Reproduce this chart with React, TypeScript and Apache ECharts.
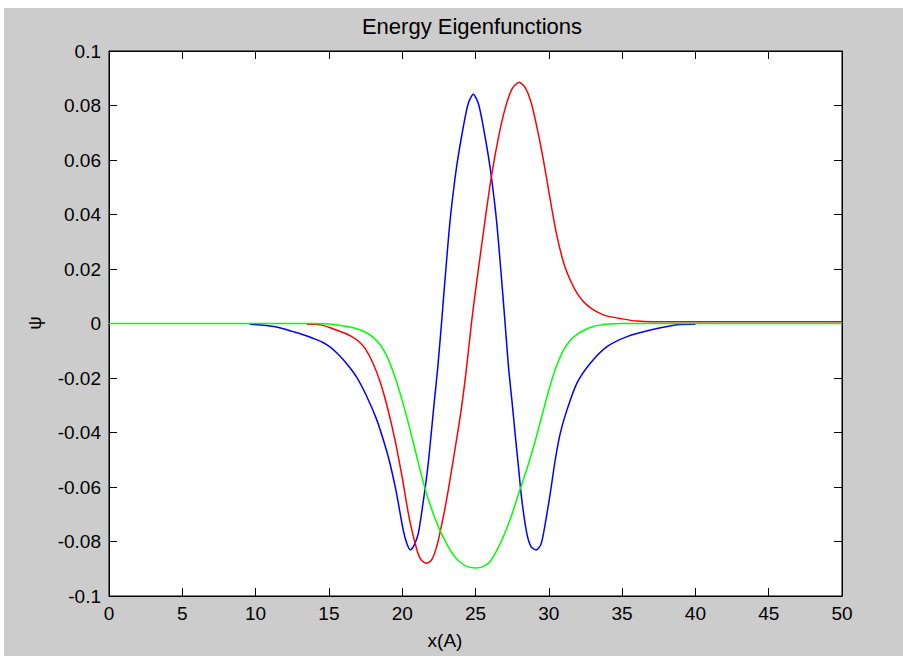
import React, { useEffect, useRef } from "react";
import * as echarts from "echarts";

const xTicks = [0, 5, 10, 15, 20, 25, 30, 35, 40, 45, 50];
const yTicks = [-0.1, -0.08, -0.06, -0.04, -0.02, 0, 0.02, 0.04, 0.06, 0.08, 0.1];

const blueX = [9.6, 10.5, 11, 11.5, 12.08, 12.5, 13, 13.5, 13.9, 14.5, 15.05, 15.6, 16.19, 16.87, 17.56, 18.24, 18.7, 19.15, 19.6, 20.06, 20.3, 20.55, 20.8, 21.1, 21.45, 21.75, 21.98, 22.2, 22.43, 22.68, 22.85, 23.03, 23.2, 23.37, 23.71, 24.17, 24.51, 24.85, 25.19, 25.53, 25.99, 26.33, 26.5, 26.67, 26.85, 27.02, 27.25, 27.48, 27.7, 27.93, 28.16, 28.5, 28.8, 29.14, 29.45, 29.64, 30.1, 30.44, 30.78, 31.24, 31.92, 32.83, 33.97, 35.34, 36.94, 38.53, 40];
const blueY = [-0.0003, -0.0006, -0.0009, -0.0014, -0.0022, -0.0029, -0.0037, -0.0046, -0.0054, -0.0067, -0.0085, -0.0111, -0.0146, -0.0195, -0.0265, -0.035, -0.0425, -0.051, -0.062, -0.0755, -0.0805, -0.0831, -0.0815, -0.077, -0.0648, -0.0526, -0.0403, -0.0281, -0.0159, 0, 0.0115, 0.0233, 0.034, 0.043, 0.0575, 0.0722, 0.0808, 0.0841, 0.0808, 0.0722, 0.0575, 0.043, 0.034, 0.0233, 0.0115, 0, -0.0159, -0.0281, -0.0403, -0.0526, -0.0648, -0.077, -0.082, -0.0831, -0.0812, -0.077, -0.0623, -0.05, -0.0403, -0.0317, -0.0219, -0.0146, -0.0085, -0.0048, -0.0024, -0.0006, -0.0003];

const redX = [13.5, 14, 14.5, 15, 15.5, 16, 16.5, 17, 17.5, 18, 18.5, 19, 19.5, 20, 20.5, 21, 21.3, 21.66, 22, 22.3, 22.57, 23, 23.5, 24, 24.35, 24.72, 25, 25.5, 26, 26.5, 27, 27.5, 27.97, 28.4, 28.8, 29.2, 29.6, 30, 30.5, 31, 31.5, 32, 32.5, 33, 33.5, 34, 35, 36, 37, 50];
const redY = [-0.0003, -0.0003, -0.0006, -0.0014, -0.0024, -0.0034, -0.0046, -0.0064, -0.0094, -0.0145, -0.0215, -0.031, -0.0425, -0.0565, -0.072, -0.083, -0.0868, -0.088, -0.0868, -0.0828, -0.077, -0.0655, -0.0495, -0.0325, -0.018, 0, 0.012, 0.032, 0.051, 0.0665, 0.0785, 0.0862, 0.0885, 0.0865, 0.081, 0.0718, 0.061, 0.0485, 0.0335, 0.0225, 0.0155, 0.0105, 0.0073, 0.0052, 0.0037, 0.0027, 0.0017, 0.0009, 0.0006, 0.0006];

const greenX = [0, 14, 15, 15.5, 16, 16.5, 17, 17.5, 18, 18.5, 19, 19.5, 20, 20.5, 21, 21.5, 22, 22.5, 23, 23.5, 24, 24.5, 25, 25.5, 26, 26.5, 27, 27.5, 28, 28.5, 29, 29.5, 30, 30.5, 31, 31.5, 32, 32.5, 33, 33.5, 34, 35, 50];
const greenY = [0, 0, -0.0002, -0.0005, -0.0009, -0.0014, -0.0021, -0.0032, -0.005, -0.0078, -0.0125, -0.0195, -0.0282, -0.0382, -0.049, -0.0595, -0.068, -0.075, -0.0805, -0.085, -0.0878, -0.0893, -0.0897, -0.0892, -0.0873, -0.0828, -0.077, -0.0698, -0.0615, -0.0535, -0.0445, -0.0345, -0.0245, -0.016, -0.0098, -0.006, -0.0037, -0.0022, -0.0012, -0.0006, -0.0002, 0, 0];

const zip = (xs: number[], ys: number[]) => xs.map((x, i) => [x, ys[i]]);

const FONT = "Arial, 'Liberation Sans', sans-serif";

export default function App() {
  const ref = useRef<HTMLDivElement>(null);
  useEffect(() => {
    if (!ref.current) return;
    const chart = echarts.init(ref.current, null, { renderer: "svg" });
    const tickCommon = { inside: true, length: 8, lineStyle: { color: "#000", width: 1 } };
    const lineCommon = { show: true, onZero: false, lineStyle: { color: "#000", width: 1 } };
    const lineSeries = (xs: number[], ys: number[], color: string) => ({
      type: "line",
      data: zip(xs, ys),
      showSymbol: false,
      smooth: 0.25,
      lineStyle: { color, width: 1.5 },
      itemStyle: { color },
    });
    chart.setOption({
      animation: false,
      backgroundColor: "#cccccc",
      grid: {
        left: 105, top: 43, right: 61, bottom: 60,
        show: true, backgroundColor: "#ffffff", borderColor: "#000", borderWidth: 1,
      },
      graphic: [
        {
          type: "text", x: 468, y: 18,
          style: { text: "Energy Eigenfunctions", fill: "#000", font: `22px ${FONT}`, align: "center", verticalAlign: "middle" },
        },
        {
          type: "text", x: 30, y: 315, rotation: Math.PI / 2,
          style: { text: "ψ", fill: "#000", font: `19px ${FONT}`, align: "center", verticalAlign: "middle" },
        },
        {
          type: "text", x: 441, y: 632,
          style: { text: "x(A)", fill: "#000", font: `19px ${FONT}`, align: "center", verticalAlign: "middle" },
        },
      ],
      xAxis: [
        {
          type: "value", min: xTicks[0], max: xTicks[xTicks.length - 1], interval: 5, position: "bottom",
          axisLine: lineCommon, axisTick: tickCommon, splitLine: { show: false },
          axisLabel: { color: "#000", fontSize: 19, fontFamily: FONT, margin: 8 },
        },
        {
          type: "value", min: xTicks[0], max: xTicks[xTicks.length - 1], interval: 5, position: "top",
          axisLine: lineCommon, axisTick: tickCommon, splitLine: { show: false },
          axisLabel: { show: false },
        },
      ],
      yAxis: [
        {
          type: "value", min: yTicks[0], max: yTicks[yTicks.length - 1], interval: 0.02, position: "left",
          axisLine: lineCommon, axisTick: tickCommon, splitLine: { show: false },
          axisLabel: {
            color: "#000", fontSize: 19, fontFamily: FONT, margin: 8,
            formatter: (v: number) => String(+v.toFixed(2)),
          },
        },
        {
          type: "value", min: yTicks[0], max: yTicks[yTicks.length - 1], interval: 0.02, position: "right",
          axisLine: lineCommon, axisTick: tickCommon, splitLine: { show: false },
          axisLabel: { show: false },
        },
      ],
      series: [
        lineSeries(blueX, blueY, "#0000ff"),
        lineSeries(redX, redY, "#ff0000"),
        lineSeries(greenX, greenY, "#00ff00"),
      ],
    });
    return () => chart.dispose();
  }, []);
  return (
    <div style={{ position: "absolute", left: 0, top: 0, width: 903, height: 656, background: "#ffffff" }}>
      <div ref={ref} style={{ position: "absolute", left: 4, top: 8, width: 899, height: 648 }} />
    </div>
  );
}
